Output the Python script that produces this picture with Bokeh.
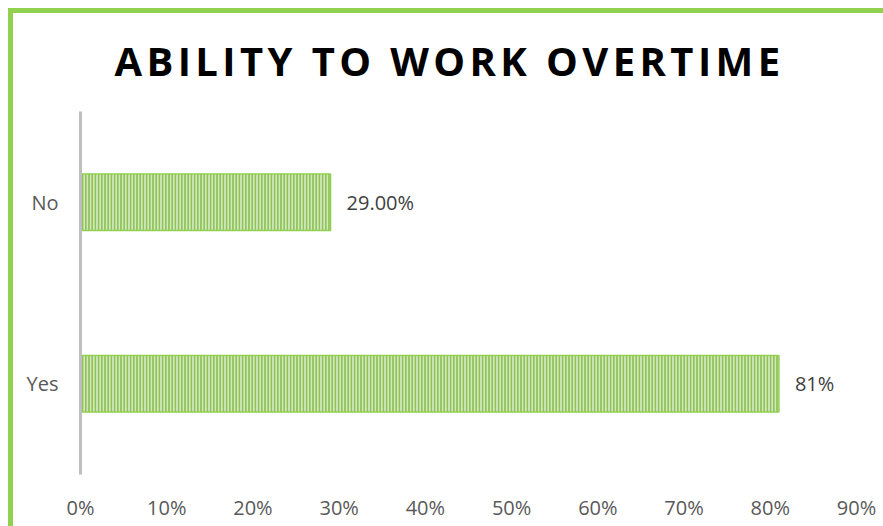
from bokeh.plotting import figure
from bokeh.models import Range1d, ColumnDataSource, NumeralTickFormatter, FixedTicker
from bokeh.layouts import column
from bokeh.embed import file_html
from bokeh.resources import INLINE
from bokeh.core.properties import value

title_text = "ABILITY TO WORK OVERTIME"
categories = ["Yes", "No"]
values = [0.81, 0.29]
labels = ["81%", "29.00%"]
ticks = [0, 0.1, 0.2, 0.3, 0.4, 0.5, 0.6, 0.7, 0.8, 0.9]

# ---- title strip (own figure so that letter-spacing can be inherited) ----
t = figure(width=870, height=90, x_range=Range1d(0, 870), y_range=Range1d(0, 90),
           output_backend="svg", toolbar_location=None,
           min_border_left=0, min_border_right=0, min_border_top=0, min_border_bottom=0,
           styles={"letter-spacing": "4.4px"})
t.axis.visible = False
t.grid.grid_line_color = None
t.outline_line_color = None
t.text(x=[38], y=[43], text=[title_text], text_font=value("Open Sans"),
       text_font_size="40px", text_font_style="bold", text_color="#000000",
       text_align="left", text_baseline="alphabetic")

# ---- main chart ----
src = ColumnDataSource(dict(cat=categories, val=values, lab=labels))

p = figure(width=870, height=423, y_range=categories, x_range=Range1d(0, 0.9),
           output_backend="svg", toolbar_location=None,
           min_border_left=67, min_border_right=27, min_border_top=8, min_border_bottom=52)

p.hbar(y="cat", right="val", left=0, height=0.311, source=src,
       fill_color="#d3e7bd", line_color="#92d050", line_width=1.5,
       hatch_pattern="vertical_line", hatch_color="#8fc35a", hatch_scale=3.2, hatch_weight=2)

p.text(x="val", y="cat", text="lab", source=src, x_offset=16,
       text_baseline="middle", text_align="left", text_font=value("Open Sans"),
       text_font_size="20px", text_color="#404040")

p.xgrid.grid_line_color = None
p.ygrid.grid_line_color = None
p.outline_line_color = None

p.xaxis.ticker = FixedTicker(ticks=ticks)
p.xaxis.formatter = NumeralTickFormatter(format="0%")
p.xaxis.axis_line_color = None
p.xaxis.major_tick_line_color = None
p.xaxis.major_tick_out = 0
p.xaxis.minor_tick_line_color = None
p.xaxis.major_label_standoff = 19
p.xaxis.major_label_text_font = "Open Sans"
p.xaxis.major_label_text_font_size = "20px"
p.xaxis.major_label_text_color = "#595959"

p.yaxis.axis_line_color = "#bfbfbf"
p.yaxis.axis_line_width = 3
p.yaxis.major_tick_line_color = None
p.yaxis.major_tick_out = 0
p.yaxis.minor_tick_line_color = None
p.yaxis.major_label_standoff = 22
p.yaxis.major_label_text_font = "Open Sans"
p.yaxis.major_label_text_font_size = "20px"
p.yaxis.major_label_text_color = "#595959"

layout = column(t, p, spacing=0,
                styles={"border-left": "5px solid #92d050", "border-top": "5px solid #92d050",
                        "margin-left": "8px", "margin-top": "8px"})

open("out.html", "w").write(file_html(layout, INLINE))
